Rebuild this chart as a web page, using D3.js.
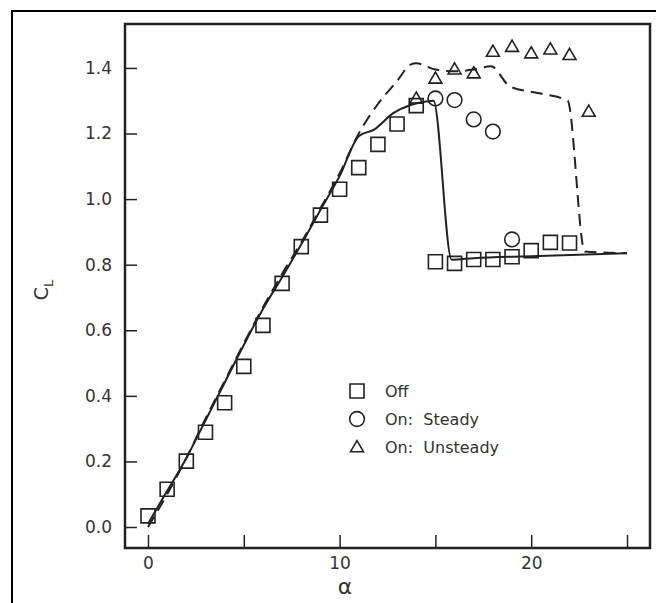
<!DOCTYPE html>
<html>
<head>
<meta charset="utf-8">
<script src="https://cdn.jsdelivr.net/npm/d3@7"></script>
<style>
  body { margin: 0; background: #fff; }
  svg { display: block; }
  text { font-family: "DejaVu Sans", sans-serif; fill: #333; }
</style>
</head>
<body>
<svg id="chart" width="656" height="603"></svg>
<script>
// measured values (CL vs alpha)
var offAlpha = [0,1,2,3,4,5,6,7,8,9,10,11,12,13,14,15,16,17,18,19,20,21,22];
var offCL = [0.034,0.115,0.201,0.289,0.379,0.49,0.615,0.743,0.855,0.951,1.03,1.096,1.167,1.229,1.285,0.809,0.804,0.816,0.816,0.824,0.843,0.868,0.866];

var steadyAlpha = [15,16,17,18,19];
var steadyCL = [1.307,1.302,1.243,1.206,0.877];

var unsteadyAlpha = [14,15,16,17,18,19,20,21,22,23];
var unsteadyCL = [1.307,1.368,1.396,1.384,1.45,1.465,1.445,1.457,1.44,1.267];

// computed curves
var solidAlpha = [0,1,2,3,4,5,6,7,8,9,10,11,11.8,12.8,13.7,14.5,14.9,15.85,17,20,25];
var solidCL = [0.01,0.11,0.21,0.325,0.44,0.555,0.665,0.762,0.862,0.967,1.07,1.192,1.212,1.262,1.287,1.298,1.30,0.815,0.82,0.826,0.835];

var dashAlpha = [0,1,2,3,4,5,6,7,8,9,10,11,12,13,13.7,14,15,16,17,17.9,18.9,20.5,21.9,22.8,25];
var dashCL = [0.0,0.1,0.21,0.33,0.445,0.56,0.67,0.772,0.868,0.972,1.078,1.2,1.29,1.36,1.41,1.414,1.395,1.39,1.395,1.405,1.343,1.322,1.30,0.84,0.835];

var xTicks = [0,5,10,15,20,25];
var xLabels = [0,10,20];
var yTicks = [0,0.2,0.4,0.6,0.8,1.0,1.2,1.4];

var legendNames = ["Off","On:  Steady","On:  Unsteady"];

var svg = d3.select("#chart");

var boxL = 125, boxR = 650, boxT = 24, boxB = 548;

var x = d3.scaleLinear().domain([-1.2, 26.2]).range([boxL, boxR]);
var y = d3.scaleLinear().domain([-0.064, 1.534]).range([boxB, boxT]);

// outer frame (runs off the page on right and bottom)
svg.append("rect")
  .attr("x", 12).attr("y", 11)
  .attr("width", 700).attr("height", 700)
  .attr("fill", "none").attr("stroke", "#000").attr("stroke-width", 2);

// axes with inward ticks
var xAxis = d3.axisBottom(x).tickValues(xTicks).tickSize(-13)
  .tickFormat(function(d){ return xLabels.indexOf(d) >= 0 ? d : ""; });
var gx = svg.append("g").attr("transform", "translate(0," + boxB + ")").call(xAxis);
gx.select(".domain").remove();
gx.selectAll("line").attr("stroke", "#222").attr("stroke-width", 1.5);
gx.selectAll("text").attr("font-size", 17).attr("y", 9).attr("dy", "0.71em").attr("fill", "#333");

var yAxis = d3.axisLeft(y).tickValues(yTicks).tickSize(-12).tickFormat(d3.format(".1f"));
var gy = svg.append("g").attr("transform", "translate(" + boxL + ",0)").call(yAxis);
gy.select(".domain").remove();
gy.selectAll("line").attr("stroke", "#222").attr("stroke-width", 1.5);
gy.selectAll("text").attr("font-size", 17).attr("x", -13).attr("fill", "#333");

// plot box
svg.append("rect")
  .attr("x", boxL).attr("y", boxT)
  .attr("width", boxR - boxL).attr("height", boxB - boxT)
  .attr("fill", "none").attr("stroke", "#222").attr("stroke-width", 2.5);

// curves
var line = d3.line()
  .x(function(d){ return x(d[0]); })
  .y(function(d){ return y(d[1]); })
  .curve(d3.curveMonotoneX);

svg.append("path")
  .datum(d3.zip(solidAlpha, solidCL))
  .attr("d", line)
  .attr("fill", "none").attr("stroke", "#222").attr("stroke-width", 2);

svg.append("path")
  .datum(d3.zip(dashAlpha, dashCL))
  .attr("d", line)
  .attr("fill", "none").attr("stroke", "#222").attr("stroke-width", 2)
  .attr("stroke-dasharray", "12,7");

// markers
var sq = d3.symbol().type(d3.symbolSquare).size(196);
var ci = d3.symbol().type(d3.symbolCircle).size(170);
var tr = d3.symbol().type(d3.symbolTriangle).size(72);

function drawPts(xs, ys, sym, dy) {
  svg.append("g").selectAll("path")
    .data(d3.zip(xs, ys))
    .join("path")
    .attr("d", sym)
    .attr("transform", function(d){ return "translate(" + x(d[0]) + "," + (y(d[1]) + dy) + ")"; })
    .attr("fill", "none").attr("stroke", "#222").attr("stroke-width", 1.6);
}
drawPts(offAlpha, offCL, sq, 0);
drawPts(steadyAlpha, steadyCL, ci, 0);
drawPts(unsteadyAlpha, unsteadyCL, tr, 1);

// legend
var legSyms = [sq, ci, tr];
var legY = [391, 419, 447];
legendNames.forEach(function(name, i) {
  svg.append("path").attr("d", legSyms[i])
    .attr("transform", "translate(357," + (legY[i] + (i == 2 ? 1 : 0)) + ")")
    .attr("fill", "none").attr("stroke", "#222").attr("stroke-width", 1.6);
  svg.append("text").attr("x", 385).attr("y", legY[i]).attr("dy", "0.35em")
    .attr("font-size", 16).attr("xml:space", "preserve").text(name);
});

// axis titles
svg.append("text")
  .attr("x", 345).attr("y", 594)
  .attr("text-anchor", "middle").attr("font-size", 22)
  .text("α");

var yl = svg.append("text")
  .attr("transform", "translate(48," + ((boxT + boxB) / 2 + 4) + ") rotate(-90)")
  .attr("text-anchor", "middle").attr("font-size", 19);
yl.append("tspan").text("C");
yl.append("tspan").attr("font-size", 13).attr("dy", 5).text("L");
</script>
</body>
</html>
